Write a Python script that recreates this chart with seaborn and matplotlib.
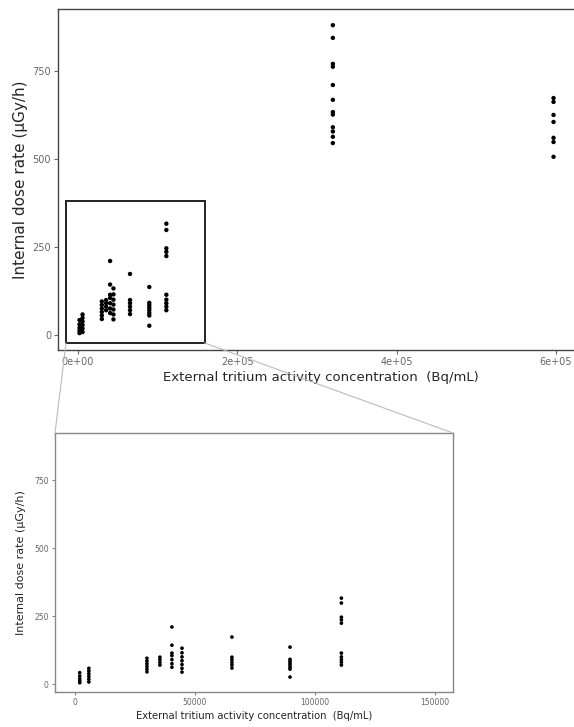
import numpy as np
import pandas as pd
import seaborn as sns
import matplotlib
matplotlib.use("Agg")
import matplotlib.pyplot as plt
from matplotlib.patches import Rectangle, ConnectionPatch

# ---- data ----
conc_low = ([2000] * 5 + [5800] * 6 + [30000] * 6 + [35400] * 4 + [40400] * 7 +
            [44600] * 7 + [65400] * 6 + [89600] * 8 + [111000] * 10)
dose_low = ([5, 12, 20, 30, 42] +
            [8, 18, 28, 38, 48, 58] +
            [45, 55, 65, 75, 85, 95] +
            [70, 80, 90, 99] +
            [62, 75, 90, 105, 114, 143, 210] +
            [44, 58, 72, 86, 100, 115, 132] +
            [59, 70, 80, 90, 99, 173] +
            [26, 55, 62, 70, 77, 84, 91, 136] +
            [70, 80, 90, 100, 114, 224, 236, 246, 298, 316])
conc_high = [320000] * 12 + [597000] * 7
dose_high = ([880, 844, 770, 762, 710, 668, 633, 626, 590, 578, 563, 545] +
             [673, 662, 625, 605, 560, 548, 506])

x_all = conc_low + conc_high
y_all = dose_low + dose_high

top_xticks = [0, 200000, 400000, 600000]
top_xlabels = ["0e+00", "2e+05", "4e+05", "6e+05"]
bot_xticks = [0, 50000, 100000, 150000]
bot_xlabels = ["0", "50000", "100000", "150000"]
yticks = [0, 250, 500, 750]
ylabels = ["0", "250", "500", "750"]

xlabel = "External tritium activity concentration  (Bq/mL)"
ylabel = "Internal dose rate (\u03bcGy/h)"

df_all = pd.DataFrame({"conc": x_all, "dose": y_all})
df_low = pd.DataFrame({"conc": conc_low, "dose": dose_low})

sns.set_theme(style="white")
plt.rcParams["font.family"] = ["DejaVu Sans"]

W, H = 574, 727
fig = plt.figure(figsize=(W / 100, H / 100), dpi=100)

def box(l, t, r, b):
    return [l / W, 1 - b / H, (r - l) / W, (b - t) / H]

tick_col = "#666666"

# ---- top panel ----
ax1 = fig.add_axes(box(58, 9, 583, 350))
sns.scatterplot(data=df_all, x="conc", y="dose", ax=ax1, color="black",
                s=10, marker="o", edgecolor="none", legend=False)
ax1.set_xlim(-25000, 634000)
ax1.set_ylim(-43, 926)
ax1.set_xticks(top_xticks)
ax1.set_xticklabels(top_xlabels)
ax1.set_yticks(yticks)
ax1.set_yticklabels(ylabels)
ax1.set_xlabel(xlabel, fontsize=9.5, labelpad=3)
ax1.set_ylabel(ylabel, fontsize=11, labelpad=3)
ax1.tick_params(axis="both", labelsize=7, colors=tick_col, length=3,
                width=0.8, left=True, bottom=True, pad=2)
for sp in ax1.spines.values():
    sp.set_color("#444444")
    sp.set_linewidth(1.0)

rect = Rectangle((-15000, -23), 174000, 403, fill=False,
                 edgecolor="#222222", linewidth=1.4, zorder=5)
ax1.add_patch(rect)

# ---- bottom (zoomed) panel ----
ax2 = fig.add_axes(box(55, 433, 453, 692))
sns.scatterplot(data=df_low, x="conc", y="dose", ax=ax2, color="black",
                s=7, marker="o", edgecolor="none", legend=False)
ax2.set_xlim(-8300, 157500)
ax2.set_ylim(-29, 923)
ax2.set_xticks(bot_xticks)
ax2.set_xticklabels(bot_xlabels)
ax2.set_yticks(yticks)
ax2.set_yticklabels(ylabels)
ax2.set_xlabel(xlabel, fontsize=7.2, labelpad=3)
ax2.set_ylabel(ylabel, fontsize=8, labelpad=6)
ax2.tick_params(axis="both", labelsize=5.5, colors=tick_col, length=2.5,
                width=0.6, left=True, bottom=True, pad=2)
for sp in ax2.spines.values():
    sp.set_color("#888888")
    sp.set_linewidth(1.0)

# connector lines
for (xa, ya), (xb, yb) in [((-15000, -23), (0, 1)), ((159000, -23), (1, 1))]:
    con = ConnectionPatch(xyA=(xa, ya), coordsA=ax1.transData,
                          xyB=(xb, yb), coordsB=ax2.transAxes,
                          color="#bbbbbb", linewidth=0.8)
    fig.add_artist(con)

fig.savefig("out.png", dpi=100)
